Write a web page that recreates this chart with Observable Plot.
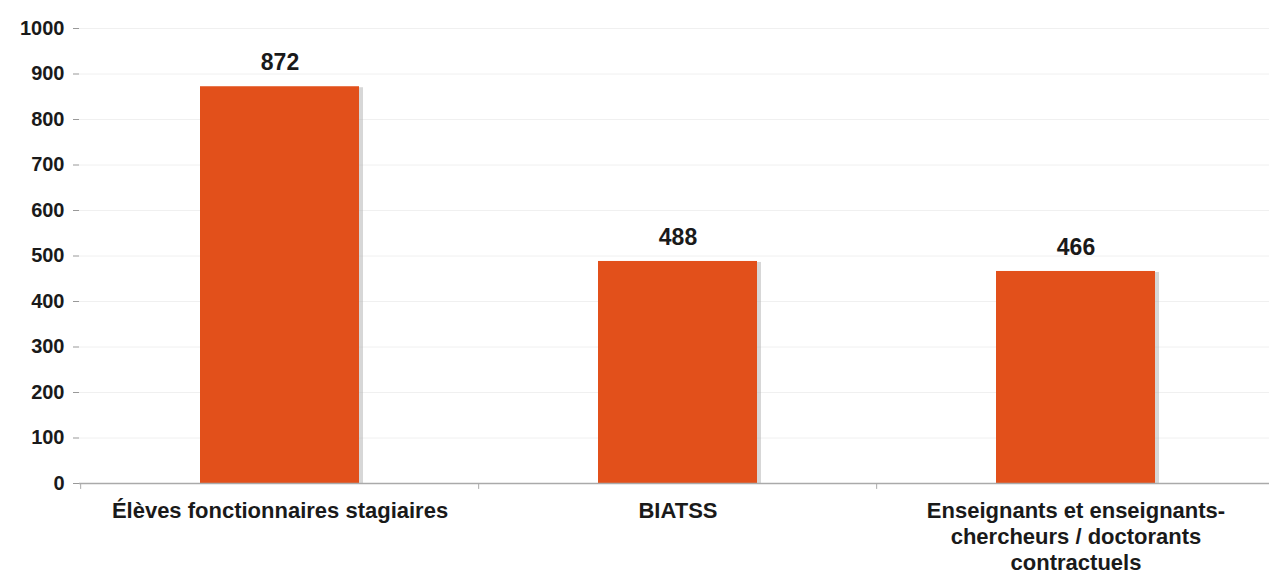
<!DOCTYPE html>
<html>
<head>
<meta charset="utf-8">
<script src="https://cdn.jsdelivr.net/npm/d3@7"></script>
<script src="https://cdn.jsdelivr.net/npm/@observablehq/plot@0.6"></script>
<style>
  html, body { margin: 0; padding: 0; background: #fff; }
  #chart { width: 1269px; height: 574px; }
  svg { font-family: "Liberation Sans", Arial, sans-serif; }
</style>
</head>
<body>
<div id="chart"></div>
<script>
const categories = ["Élèves fonctionnaires stagiaires", "BIATSS", "Enseignants et enseignants-chercheurs / doctorants contractuels"];
const tickLabels = ["Élèves fonctionnaires stagiaires", "BIATSS", "Enseignants et enseignants-\nchercheurs / doctorants\ncontractuels"];
const values = [872, 488, 466];
const yTicks = [0, 100, 200, 300, 400, 500, 600, 700, 800, 900, 1000];

const data = categories.map((c, i) => ({category: c, value: values[i]}));
const labelOf = new Map(categories.map((c, i) => [c, tickLabels[i]]));

const xRange = [80, 1276];
const step = (xRange[1] - xRange[0]) / categories.length;

const chart = Plot.plot({
  width: 1269,
  height: 574,
  marginLeft: 79,
  marginRight: 0,
  marginTop: 28,
  marginBottom: 91,
  style: {fontFamily: '"Liberation Sans", Arial, sans-serif', background: "#fff"},
  x: {domain: categories, range: xRange, paddingInner: 0.6, paddingOuter: 0.3, label: null},
  y: {domain: [0, 1000], label: null},
  marks: [
    Plot.ruleY(yTicks.slice(1), {stroke: "#f0f0f0", strokeWidth: 1}),
    Plot.axisY({
      ticks: yTicks, tickSize: 6, tickPadding: 9, stroke: "#999",
      tickFormat: d => String(d),
      fontSize: 20, fontWeight: "bold", fill: "#1a1a1a", label: null
    }),
    Plot.rectY(data, {x: "category", y: "value", fill: "#b0b0b0", fillOpacity: 0.5, dx: 4, dy: 1}),
    Plot.rectY(data, {x: "category", y: "value", fill: "#E2501B"}),
    Plot.text(data, {x: "category", y: "value", text: d => String(d.value), dy: -24, fontSize: 23, fontWeight: "bold", fill: "#1a1a1a"}),
    Plot.ruleY([0], {stroke: "#aaa", strokeWidth: 1.5}),
    Plot.ruleX(categories, {x: d => d, dx: -step / 2, y1: 0, y2: -13, stroke: "#aaa"}),
    Plot.axisX({
      tickSize: 0, tickPadding: 16, tickFormat: d => labelOf.get(d),
      fontSize: 22, fontWeight: "bold", fill: "#1a1a1a", lineHeight: 1.18, label: null
    })
  ]
});
document.getElementById("chart").appendChild(chart);
</script>
</body>
</html>
